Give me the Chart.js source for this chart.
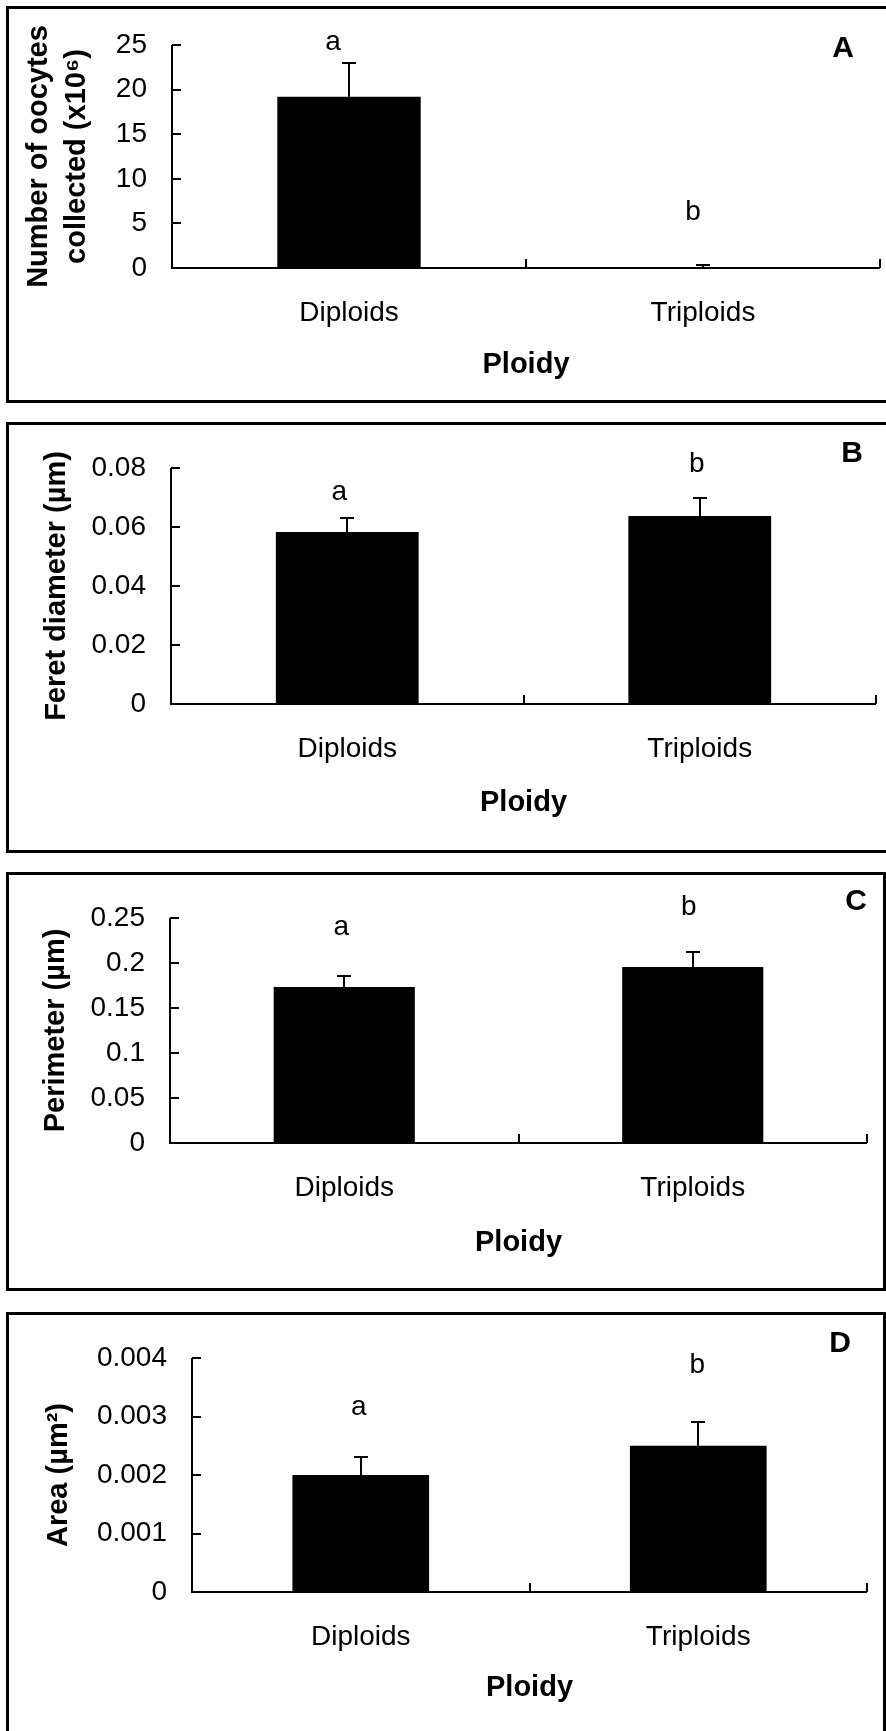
<!DOCTYPE html>
<html><head><meta charset="utf-8">
<script src="https://cdn.jsdelivr.net/npm/chart.js@4.4.1/dist/chart.umd.min.js"></script>
<style>
html,body{margin:0;padding:0;background:#fff;}
body{width:886px;height:1731px;position:relative;overflow:hidden;}
.box{position:absolute;border:3px solid #000;box-sizing:border-box;}
canvas{position:absolute;left:0;}
</style></head><body>
<div class="box" style="left:6px;top:6px;width:900px;height:397px"></div>
<div class="box" style="left:6px;top:422px;width:900px;height:431px"></div>
<div class="box" style="left:6px;top:872px;width:880px;height:419px"></div>
<div class="box" style="left:6px;top:1312px;width:880px;height:500px"></div>
<canvas id="cA"></canvas>
<canvas id="cB"></canvas>
<canvas id="cC"></canvas>
<canvas id="cD"></canvas>
<script>
// ---------- data ----------
const categories = ["Diploids", "Triploids"];
const xTitle = "Ploidy";

const oocytesMean = [19.2, 0.05];
const oocytesSE   = [3.8, 0.25];
const oocytesLetters = ["a", "b"];
const oocytesLetterAt = [24.4, 5.4];
const oocytesTicks = [0, 5, 10, 15, 20, 25];
const oocytesTickLabels = ["0", "5", "10", "15", "20", "25"];

const feretMean = [0.0583, 0.0637];
const feretSE   = [0.0048, 0.0061];
const feretLetters = ["a", "b"];
const feretLetterAt = [0.0692, 0.0786];
const feretTicks = [0, 0.02, 0.04, 0.06, 0.08];
const feretTickLabels = ["0", "0.02", "0.04", "0.06", "0.08"];

const perimMean = [0.1733, 0.1956];
const perimSE   = [0.0122, 0.0167];
const perimLetters = ["a", "b"];
const perimLetterAt = [0.231, 0.2533];
const perimTicks = [0, 0.05, 0.1, 0.15, 0.2, 0.25];
const perimTickLabels = ["0", "0.05", "0.1", "0.15", "0.2", "0.25"];

const areaMean = [0.0020, 0.0025];
const areaSE   = [0.0003, 0.0004];
const areaLetters = ["a", "b"];
const areaLetterAt = [0.003026, 0.003744];
const areaTicks = [0, 0.001, 0.002, 0.003, 0.004];
const areaTickLabels = ["0", "0.001", "0.002", "0.003", "0.004"];

// ---------- layout ----------
const FONT = '"Liberation Sans", Arial, sans-serif';
const panels = [
  {id:'cA', top:0, areaTop:45, areaBottom:268, left:172, right:880, ploidyY:365,
   yTitle:["Number of oocytes","collected (x10\u2076)"], yTitleLH:1.3, yTitlePad:20,
   mean:oocytesMean, se:oocytesSE, letters:oocytesLetters, letterAt:oocytesLetterAt, letterDx:[-16,-10],
   ticks:oocytesTicks, tickLabels:oocytesTickLabels, tag:"A", tagX:843, tagY:57},
  {id:'cB', top:410, areaTop:468, areaBottom:704, left:171, right:876, ploidyY:803,
   yTitle:"Feret diameter (\u00b5m)", yTitleLH:1.2, yTitlePad:39.6,
   mean:feretMean, se:feretSE, letters:feretLetters, letterAt:feretLetterAt, letterDx:[-8,-3],
   ticks:feretTicks, tickLabels:feretTickLabels, tag:"B", tagX:852, tagY:462},
  {id:'cC', top:860, areaTop:918, areaBottom:1143, left:170, right:867, ploidyY:1243,
   yTitle:"Perimeter (\u00b5m)", yTitleLH:1.2, yTitlePad:38.6,
   mean:perimMean, se:perimSE, letters:perimLetters, letterAt:perimLetterAt, letterDx:[-3,-4],
   ticks:perimTicks, tickLabels:perimTickLabels, tag:"C", tagX:856, tagY:910},
  {id:'cD', top:1300, areaTop:1358, areaBottom:1592, left:192, right:867, ploidyY:1688,
   yTitle:"Area (\u00b5m\u00b2)", yTitleLH:1.2, yTitlePad:41.6,
   mean:areaMean, se:areaSE, letters:areaLetters, letterAt:areaLetterAt, letterDx:[-2,-1],
   ticks:areaTicks, tickLabels:areaTickLabels, tag:"D", tagX:840, tagY:1352}
];

const extras = {
  id:'extras',
  afterDraw(chart, args, opts){
    const p = opts.spec;
    const {ctx, chartArea:a} = chart;
    const x = chart.scales.x, y = chart.scales.y;
    ctx.save();
    ctx.strokeStyle = '#000';
    ctx.lineWidth = 2;
    // error bars (upper only)
    p.mean.forEach((m,i)=>{
      const cx = Math.round(x.getPixelForValue(i));
      const y0 = y.getPixelForValue(m), y1 = Math.round(y.getPixelForValue(m + p.se[i]));
      ctx.beginPath();
      ctx.moveTo(cx, y0); ctx.lineTo(cx, y1);
      ctx.moveTo(cx-7, y1); ctx.lineTo(cx+7, y1);
      ctx.stroke();
    });
    // axes
    ctx.beginPath();
    ctx.moveTo(a.left, a.top); ctx.lineTo(a.left, a.bottom); ctx.lineTo(a.right, a.bottom);
    y.ticks.forEach(t=>{
      const py = Math.round(y.getPixelForValue(t.value));
      ctx.moveTo(a.left, py); ctx.lineTo(a.left+9, py);
    });
    for (let i=0;i<categories.length;i++){
      const px = Math.round(x.getPixelForValue(i+0.5));
      ctx.moveTo(px, a.bottom); ctx.lineTo(px, a.bottom-9);
    }
    ctx.stroke();
    // significance letters
    ctx.fillStyle = '#000';
    ctx.font = '28px ' + FONT;
    ctx.textAlign = 'center';
    ctx.textBaseline = 'alphabetic';
    p.letters.forEach((l,i)=>{
      ctx.fillText(l, x.getPixelForValue(i) + p.letterDx[i], y.getPixelForValue(p.letterAt[i]));
    });
    // panel tag
    ctx.font = 'bold 30px ' + FONT;
    ctx.fillText(p.tag, p.tagX, p.tagY - p.top);
    ctx.restore();
  }
};

panels.forEach(p=>{
  const cv = document.getElementById(p.id);
  const H = Math.round(p.ploidyY + 17.4 - p.top);
  const Hx = H - (p.areaBottom - p.top);
  cv.width = 886; cv.height = H;
  cv.style.top = p.top + 'px';
  cv.style.width = '886px'; cv.style.height = H + 'px';
  new Chart(cv, {
    type:'bar',
    data:{ labels:categories, datasets:[{ data:p.mean, backgroundColor:'#000', borderWidth:0,
      barPercentage:0.405, categoryPercentage:1.0 }]},
    options:{
      responsive:false, animation:false, devicePixelRatio:1,
      layout:{ padding:{ top:p.areaTop - p.top, bottom:0, left:0, right:886 - p.right } },
      plugins:{ legend:{display:false}, tooltip:{enabled:false}, extras:{spec:p} },
      scales:{
        x:{
          grid:{display:false, drawTicks:false}, border:{display:false},
          ticks:{ color:'#000', font:{family:FONT, size:28}, padding:28, maxRotation:0, autoSkip:false },
          title:{ display:true, text:xTitle, color:'#000', font:{family:FONT, size:29, weight:'bold', lineHeight:1.2}, padding:0 },
          afterFit(s){ s.height = Hx; }
        },
        y:{
          min:0, max:p.ticks[p.ticks.length-1],
          grid:{display:false, drawTicks:false}, border:{display:false},
          afterBuildTicks(s){ s.ticks = p.ticks.map(v=>({value:v})); },
          ticks:{ color:'#000', font:{family:FONT, size:28}, padding:25,
            callback:(v,i)=>p.tickLabels[i] },
          title:{ display:true, text:p.yTitle, color:'#000',
            font:{family:FONT, size:29, weight:'bold', lineHeight:p.yTitleLH}, padding:{top:p.yTitlePad, bottom:0} },
          afterFit(s){ s.width = p.left; }
        }
      }
    },
    plugins:[extras]
  });
});
</script>
</body></html>
